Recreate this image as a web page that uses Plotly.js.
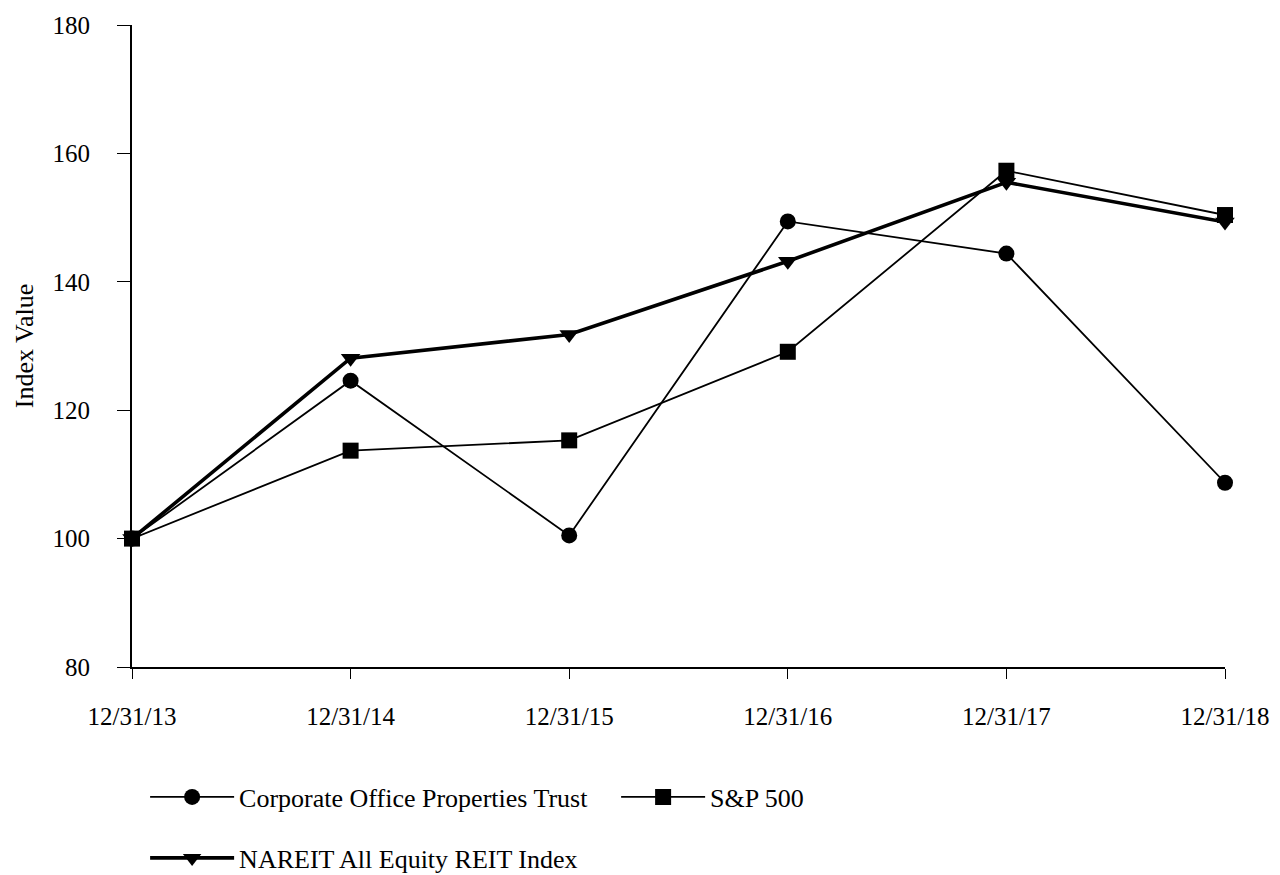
<!DOCTYPE html>
<html>
<head>
<meta charset="utf-8">
<script src="https://cdn.plot.ly/plotly-3.0.1.min.js"></script>
<style>html,body{margin:0;padding:0;background:#fff;}#chart{width:1280px;height:875px;}</style>
</head>
<body>
<div id="chart"></div>
<script>
const dates = ["12/31/13", "12/31/14", "12/31/15", "12/31/16", "12/31/17", "12/31/18"];
const copt = [100, 124.6, 100.5, 149.4, 144.4, 108.7];
const sp500 = [100, 113.7, 115.3, 129.1, 157.3, 150.4];
const nareit = [100, 128.1, 131.8, 143.2, 155.5, 149.3];
const yTicks = [80, 100, 120, 140, 160, 180];

const serif = "Liberation Serif, Times New Roman, serif";
const traces = [
  {x: dates, y: copt, name: "Corporate Office Properties Trust", mode: "lines+markers", legendrank: 1, legend: "legend",
   cliponaxis: false, line: {color: "#000", width: 1.8}, marker: {symbol: "circle", size: 16, color: "#000"}},
  {x: dates, y: nareit, name: "NAREIT All Equity REIT Index", mode: "lines+markers", legend: "legend2",
   cliponaxis: false, line: {color: "#000", width: 3.6}, marker: {symbol: "triangle-down", size: 17, color: "#000"}},
  {x: dates, y: sp500, name: "S&P 500", mode: "lines+markers", legendrank: 2, legend: "legend",
   cliponaxis: false, line: {color: "#000", width: 1.8}, marker: {symbol: "square", size: 16, color: "#000"}}
];
const legFont = {family: serif, size: 26, color: "#000"};
const layout = {
  width: 1280, height: 875,
  paper_bgcolor: "#fff", plot_bgcolor: "#fff",
  margin: {l: 132, r: 55, t: 25, b: 208, autoexpand: false},
  font: {family: serif, size: 25, color: "#000"},
  showlegend: true,
  legend: {orientation: "h", x: 0.012, xanchor: "left", y: -0.2025, yanchor: "middle",
           entrywidth: 372, entrywidthmode: "pixels", itemwidth: 84, font: legFont},
  legend2: {orientation: "h", x: 0.012, xanchor: "left", y: -0.2975, yanchor: "middle",
           itemwidth: 84, font: legFont},
  xaxis: {type: "category", range: [0, 5], showgrid: false, zeroline: false, automargin: false,
          showline: true, linecolor: "#000", linewidth: 2,
          ticks: "outside", ticklen: 10, tickcolor: "#000", tickwidth: 1, ticklabelstandoff: 16,
          tickfont: {family: serif, size: 25, color: "#000"}},
  yaxis: {range: [80, 180], tickvals: yTicks, showgrid: false, zeroline: false, automargin: false,
          showline: true, linecolor: "#000", linewidth: 2,
          ticks: "outside", ticklen: 13, tickcolor: "#000", tickwidth: 1, ticklabelstandoff: 22,
          tickfont: {family: serif, size: 25, color: "#000"},
          title: {text: "Index Value", standoff: 11, font: {family: serif, size: 26, color: "#000"}}}
};
Plotly.newPlot("chart", traces, layout, {displayModeBar: false, staticPlot: true});
</script>
</body>
</html>
